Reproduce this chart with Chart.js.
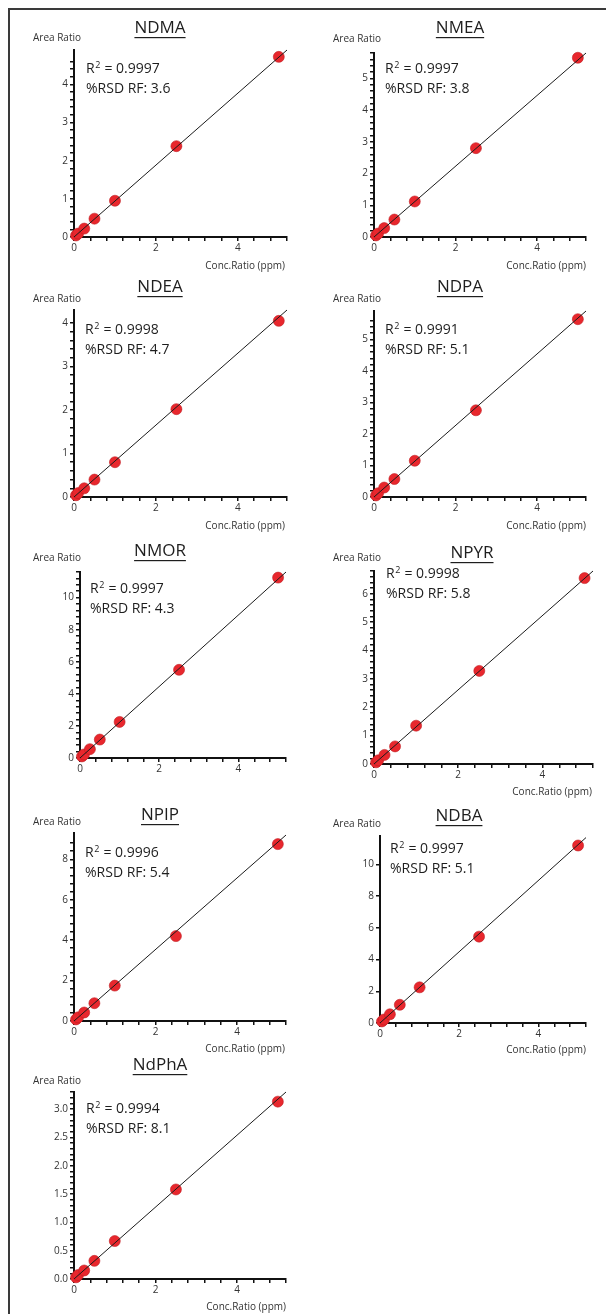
<!DOCTYPE html>
<html>
<head>
<meta charset="utf-8">
<script src="https://cdn.jsdelivr.net/npm/chart.js@4.4.1/dist/chart.umd.min.js"></script>
<style>
  body { margin: 0; background: #fff; width: 606px; height: 1314px; position: relative; overflow: hidden; }
  .frame-top { position: absolute; left: 8px; top: 8px; width: 598px; height: 2px; background: #3a3a3a; }
  .frame-left { position: absolute; left: 8px; top: 8px; width: 2px; height: 1306px; background: #3a3a3a; }
  canvas { position: absolute; }
</style>
</head>
<body>
<div class="frame-top"></div>
<div class="frame-left"></div>
<div id="wrap"></div>
<script>
// data
const names = ['NDMA', 'NMEA', 'NDEA', 'NDPA', 'NMOR', 'NPYR', 'NPIP', 'NDBA', 'NdPhA'];
const conc = [0.05, 0.1, 0.25, 0.5, 1, 2.5, 5];

const ndma  = [0.04, 0.09, 0.22, 0.48, 0.95, 2.38, 4.72];
const nmea  = [0.05, 0.11, 0.28, 0.55, 1.12, 2.80, 5.65];
const ndea  = [0.04, 0.09, 0.20, 0.40, 0.80, 2.02, 4.05];
const ndpa  = [0.05, 0.12, 0.30, 0.57, 1.15, 2.75, 5.64];
const nmor  = [0.10, 0.22, 0.55, 1.15, 2.25, 5.50, 11.25];
const npyr  = [0.06, 0.13, 0.32, 0.62, 1.35, 3.28, 6.55];
const npip  = [0.08, 0.18, 0.42, 0.88, 1.75, 4.20, 8.75];
const ndba  = [0.10, 0.22, 0.55, 1.15, 2.25, 5.45, 11.20];
const ndpha = [0.03, 0.07, 0.15, 0.32, 0.67, 1.58, 3.13];
const series = [ndma, nmea, ndea, ndpa, nmor, npyr, npip, ndba, ndpha];

const r2  = ['0.9997', '0.9997', '0.9998', '0.9991', '0.9997', '0.9998', '0.9996', '0.9997', '0.9994'];
const rsd = ['3.6', '3.8', '4.7', '5.1', '4.3', '5.8', '5.4', '5.1', '8.1'];

// fitted calibration line: from origin to the end of the x axis
const fitX = [0, 5.2];
const fitEnd = [4.9, 5.8, 4.3, 5.9, 11.6, 6.8, 9.2, 11.7, 3.3];

const xMax = 5.2;
const yMax = [4.9, 5.8, 4.3, 5.9, 11.6, 6.8, 9.3, 11.8, 3.3];
const yLabelStep = [1, 1, 1, 1, 2, 1, 2, 2, 0.5];
const yMinorStep = [0.2, 0.2, 0.2, 0.2, 0.4, 0.2, 0.4, 2, 0.1];

// layout: plot box [left, top, right, bottom] and text anchors, page pixels
const boxes = [
  [74, 50, 287, 237], [374, 53, 586, 237],
  [74, 310, 287, 497], [374, 311, 586, 497],
  [80, 572, 286, 758], [374, 571, 593, 764],
  [74, 833, 286, 1021], [380, 836, 586, 1023],
  [74, 1092, 286, 1279]
];
const titlePos = [[160, 28], [460, 28], [160, 287], [460, 287], [160, 551], [472, 553], [160, 815], [459, 816], [160, 1065]];
const arPos = [[33, 38], [333, 39], [33, 299], [333, 299], [33, 558], [333, 558], [33, 822], [333, 824], [33, 1081]];
const textPos = [[86, 69], [385, 69], [85, 330], [385, 330], [90, 589], [386, 574], [85, 853], [390, 849], [86, 1109]];
const concPos = [[285, 266], [586, 266], [285, 526], [586, 526], null, [592, 792], [285, 1049], [586, 1050], [286, 1307]];

const PAD_L = 52, PAD_T = 48, PAD_R = 14, PAD_B = 42;
const FONT = "'Open Sans', 'Noto Sans', sans-serif";

const textPlugin = {
  id: 'texts',
  afterDraw(chart, args, opts) {
    const i = opts.idx;
    const ox = boxes[i][0] - PAD_L, oy = boxes[i][1] - PAD_T;
    const ctx = chart.ctx;
    ctx.save();
    ctx.textBaseline = 'middle';

    // title, underlined
    ctx.font = '17px ' + FONT;
    ctx.fillStyle = '#1e1e1e';
    ctx.textAlign = 'center';
    const tx = titlePos[i][0] - ox, ty = titlePos[i][1] - oy;
    ctx.fillText(names[i], tx, ty);
    const tw = ctx.measureText(names[i]).width;
    ctx.fillRect(tx - tw / 2, ty + 9, tw, 1.2);

    // axis names
    ctx.font = '10px ' + FONT;
    ctx.fillStyle = '#333';
    ctx.textAlign = 'left';
    ctx.fillText('Area Ratio', arPos[i][0] - ox, arPos[i][1] - oy);
    if (concPos[i]) {
      ctx.textAlign = 'right';
      ctx.fillText('Conc.Ratio (ppm)', concPos[i][0] - ox, concPos[i][1] - oy);
    }

    // R² and %RSD
    ctx.fillStyle = '#1e1e1e';
    ctx.textAlign = 'left';
    let x = textPos[i][0] - ox;
    const y = textPos[i][1] - oy;
    ctx.font = '14px ' + FONT;
    ctx.fillText('R', x, y);
    x += ctx.measureText('R').width;
    ctx.font = '9px ' + FONT;
    ctx.fillText('2', x + 0.5, y - 4);
    x += ctx.measureText('2').width + 1;
    ctx.font = '14px ' + FONT;
    ctx.fillText(' = ' + r2[i], x, y);
    ctx.fillText('%RSD RF: ' + rsd[i], textPos[i][0] - ox, y + 20);
    ctx.restore();
  }
};

const wrap = document.getElementById('wrap');

names.forEach((name, i) => {
  const [L, T, R, B] = boxes[i];
  const canvas = document.createElement('canvas');
  canvas.width = PAD_L + (R - L) + PAD_R;
  canvas.height = PAD_T + (B - T) + PAD_B;
  canvas.style.left = (L - PAD_L) + 'px';
  canvas.style.top = (T - PAD_T) + 'px';
  wrap.appendChild(canvas);

  const points = conc.map((c, k) => ({ x: c, y: series[i][k] }));
  const fit = fitX.map((c, k) => ({ x: c, y: k === 0 ? 0 : fitEnd[i] }));
  const minor = yMinorStep[i], lab = yLabelStep[i];

  new Chart(canvas.getContext('2d'), {
    type: 'scatter',
    data: {
      datasets: [
        {
          data: fit,
          type: 'line',
          showLine: true,
          borderColor: '#1a1a1a',
          borderWidth: 1,
          pointRadius: 0,
          clip: false,
          order: 1
        },
        {
          data: points,
          backgroundColor: '#e8272d',
          borderColor: '#c01c22',
          borderWidth: 0.6,
          pointRadius: 5.5,
          clip: false,
          order: 2
        }
      ]
    },
    options: {
      responsive: false,
      animation: false,
      devicePixelRatio: 1,
      layout: { padding: { left: 0, top: PAD_T, right: PAD_R, bottom: 0 } },
      plugins: {
        legend: { display: false },
        tooltip: { enabled: false },
        texts: { idx: i }
      },
      scales: {
        x: {
          type: 'linear',
          min: 0,
          max: xMax,
          afterFit(scale) { scale.height = PAD_B; },
          border: { display: true, color: '#111', width: 2 },
          grid: { drawOnChartArea: false, drawTicks: true, tickLength: 4, tickColor: '#111', lineWidth: 1.5 },
          ticks: {
            stepSize: 0.4,
            autoSkip: false,
            maxRotation: 0,
            padding: 1,
            color: '#333',
            font: { family: FONT, size: 10 },
            callback: v => (Math.round(v * 10) % 20 === 0 ? String(Math.round(v)) : '')
          }
        },
        y: {
          type: 'linear',
          min: 0,
          max: yMax[i],
          afterFit(scale) { scale.width = PAD_L; },
          afterBuildTicks(scale) {
            scale.ticks = scale.ticks.filter(t => Math.abs(t.value / minor - Math.round(t.value / minor)) < 1e-6);
          },
          border: { display: true, color: '#111', width: 2 },
          grid: { drawOnChartArea: false, drawTicks: true, tickLength: 4, tickColor: '#111', lineWidth: 1.5 },
          ticks: {
            stepSize: minor,
            autoSkip: false,
            padding: 2,
            color: '#333',
            font: { family: FONT, size: 10 },
            callback: v => {
              if (Math.abs(v / lab - Math.round(v / lab)) > 1e-6) return '';
              return lab < 1 ? v.toFixed(1) : String(Math.round(v));
            }
          }
        }
      }
    },
    plugins: [textPlugin]
  });
});
</script>
</body>
</html>
